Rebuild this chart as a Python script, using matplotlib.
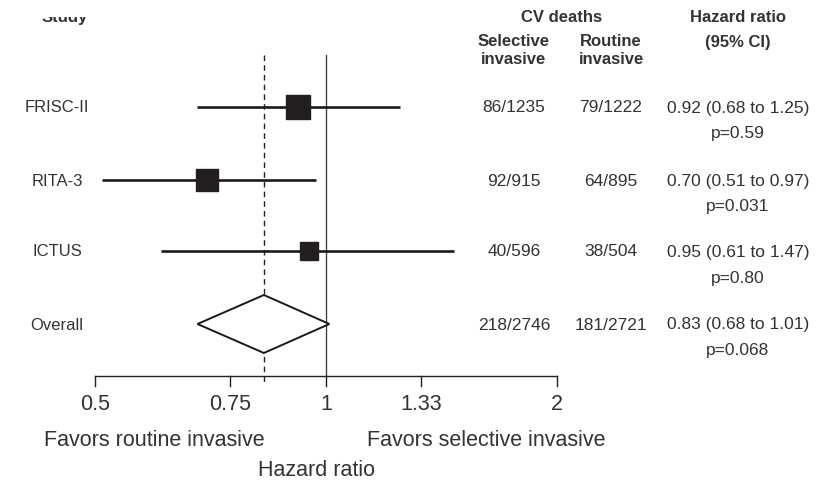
import matplotlib
matplotlib.use("Agg")
import matplotlib.pyplot as plt
from matplotlib.patches import Polygon, Rectangle

plt.rcParams["font.family"] = ["Liberation Sans", "DejaVu Sans"]

# Trial results (hazard ratios for CV death)
studies = ["FRISC-II", "RITA-3", "ICTUS"]
hr = [0.92, 0.70, 0.95]
ci_low = [0.68, 0.51, 0.61]
ci_high = [1.25, 0.97, 1.47]
deaths_selective = ["86/1235", "92/915", "40/596"]
deaths_routine = ["79/1222", "64/895", "38/504"]
p_values = ["0.59", "0.031", "0.80"]

overall_label = "Overall"
overall_hr = 0.83
overall_low = 0.68
overall_high = 1.01
overall_selective = "218/2746"
overall_routine = "181/2721"
overall_p = "0.068"

tick_values = [0.5, 0.75, 1, 1.33, 2]
tick_labels = ["0.5", "0.75", "1", "1.33", "2"]

# Layout (pixels on an 825x483 canvas)
W, H = 825, 483
row_y = [107, 180, 251, 324]
box_px = [24, 23, 18]
axis_y = 376
TXT = "#333333"

fig = plt.figure(figsize=(W / 100, H / 100), dpi=100)
ax = fig.add_axes([95 / W, 0, 462 / W, 1])
ax.set_xscale("log")
ax.set_xlim(0.5, 2)
ax.set_ylim(H, 0)
ax.axis("off")


def ftext(x, y, s, **kw):
    kw.setdefault("color", TXT)
    kw.setdefault("ha", "center")
    kw.setdefault("va", "center")
    fig.text(x / W, 1 - y / H, s, **kw)


# Reference lines: no effect and pooled estimate
ax.plot([1, 1], [55, axis_y], color="#444444", lw=1.0, clip_on=False)
ax.plot([overall_hr, overall_hr], [55, axis_y + 8], color="#222222", lw=1.0,
        ls=(0, (4, 3)), clip_on=False)

# Individual trials: CI line and square
for i, name in enumerate(studies):
    y = row_y[i]
    ax.plot([ci_low[i], ci_high[i]], [y, y], color="#1a1a1a", lw=1.9,
            solid_capstyle="butt", clip_on=False)
    ax.plot([hr[i]], [y], marker="s", color="#231f20",
            markersize=box_px[i] * 0.72, clip_on=False)

# Pooled estimate diamond
yo = row_y[3]
diamond = Polygon([(overall_low, yo), (overall_hr, yo - 29),
                   (overall_high, yo), (overall_hr, yo + 29)],
                  closed=True, facecolor="white", edgecolor="#1a1a1a", lw=1.4,
                  clip_on=False, zorder=3)
ax.add_patch(diamond)

# Hazard ratio axis
ax.plot([0.5, 2], [axis_y, axis_y], color="#222222", lw=1.0, clip_on=False)
for v in tick_values:
    ax.plot([v, v], [axis_y, axis_y + 10], color="#222222", lw=1.0,
            clip_on=False)

tick_px = [95, 230, 326, 421, 557]
for xp, lab in zip(tick_px, tick_labels):
    ftext(xp, 404, lab, fontsize=15.5)

ftext(154, 440, "Favors routine invasive", fontsize=15.5)
ftext(486, 440, "Favors selective invasive", fontsize=15.5)
ftext(316, 471, "Hazard ratio", fontsize=15.5)

# Column headers
ftext(65, 22, "Study", fontsize=12, fontweight="bold", va="baseline")
fig.add_artist(Rectangle((30 / W, 1 - 17 / H), 80 / W, 17 / H,
                         transform=fig.transFigure, facecolor="white",
                         edgecolor="none", zorder=10))
ftext(562, 17, "CV deaths", fontsize=12, fontweight="bold")
ftext(514, 42, "Selective", fontsize=12, fontweight="bold")
ftext(514, 59, "invasive", fontsize=12, fontweight="bold")
ftext(611, 42, "Routine", fontsize=12, fontweight="bold")
ftext(611, 59, "invasive", fontsize=12, fontweight="bold")
ftext(738, 17, "Hazard ratio", fontsize=12, fontweight="bold")
ftext(738, 42, "(95% CI)", fontsize=12, fontweight="bold")

# Row labels and statistics
labels = studies + [overall_label]
sel = deaths_selective + [overall_selective]
rou = deaths_routine + [overall_routine]
hrs = hr + [overall_hr]
lows = ci_low + [overall_low]
highs = ci_high + [overall_high]
ps = p_values + [overall_p]
for i, y in enumerate(row_y):
    ftext(57, y + 1, labels[i], fontsize=12)
    ftext(514, y + 1, sel[i], fontsize=12.5)
    ftext(611, y + 1, rou[i], fontsize=12.5)
    ftext(738, y + 1, f"{hrs[i]:.2f} ({lows[i]:.2f} to {highs[i]:.2f})",
          fontsize=12.5)
    ftext(738, y + 27, f"p={ps[i]}", fontsize=12.5)

fig.savefig("out.png", dpi=100, facecolor="white")
